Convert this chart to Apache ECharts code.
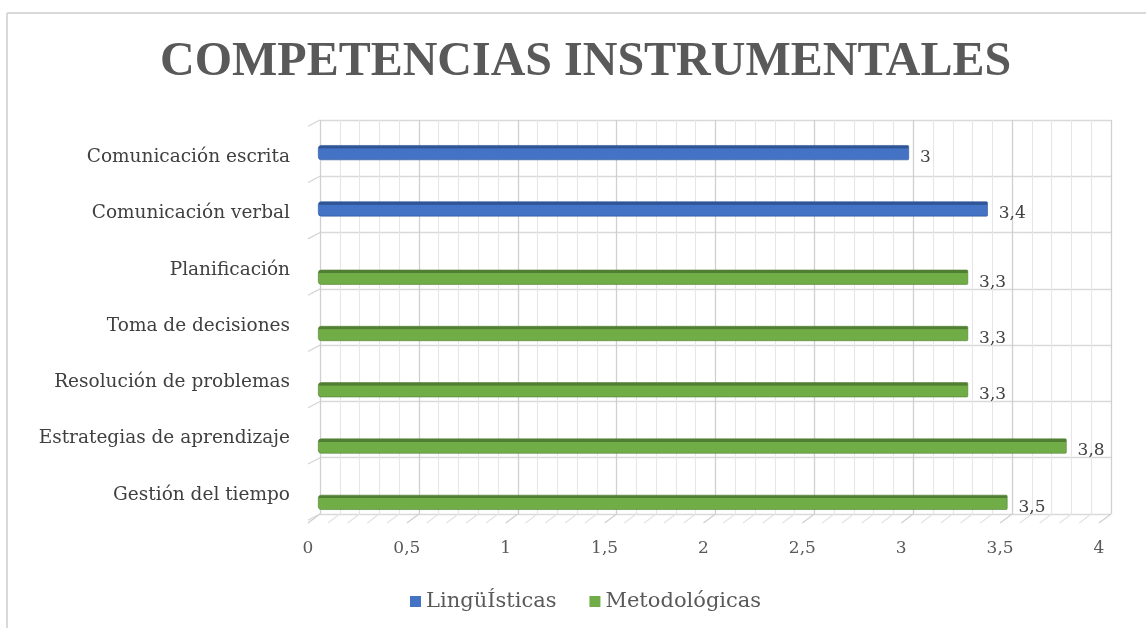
<!DOCTYPE html>
<html>
<head>
<meta charset="utf-8">
<script src="https://cdn.jsdelivr.net/npm/echarts@6/dist/echarts.min.js"></script>
<style>html,body{margin:0;padding:0;background:#fff}#c{width:1146px;height:628px}</style>
</head>
<body>
<div id="c"></div>
<script>
var categories = ['Comunicación escrita','Comunicación verbal','Planificación','Toma de decisiones','Resolución de problemas','Estrategias de aprendizaje','Gestión del tiempo'];
var linguisticas = [3, 3.4, null, null, null, null, null];
var metodologicas = [null, null, 3.3, 3.3, 3.3, 3.8, 3.5];
var seriesNames = ['LingüÍsticas', 'Metodológicas'];
var titleText = 'COMPETENCIAS INSTRUMENTALES';

var serif = 'Liberation Serif';
var wide = 'DejaVu Serif';
var blue = '#4472c4', blueDark = '#2f5597', green = '#70ad47', greenDark = '#507e32';
var chart = echarts.init(document.getElementById('c'));
function comma(v){ return String(v).replace('.', ','); }
function barColor(main, dark){
  return {type:'linear', x:0, y:0, x2:0, y2:1, colorStops:[
    {offset:0, color:dark},{offset:0.2, color:dark},{offset:0.24, color:main},{offset:1, color:main}]};
}
var DX = 12, DY = 9;
var option = {
  animation:false,
  backgroundColor:'#ffffff',
  title:{text:titleText, left:155, top:34,
    textStyle:{fontFamily:serif, fontSize:48, fontWeight:'bold', color:'#595959'}},
  legend:{top:586, left:405, itemWidth:11, itemHeight:11, itemGap:33, icon:'rect',
    textStyle:{fontFamily:wide, fontSize:21, color:'#595959'},
    data:[{name:seriesNames[0], itemStyle:{color:blue, borderWidth:0}},
          {name:seriesNames[1], itemStyle:{color:green, borderWidth:0}}]},
  graphic:[
    {type:'line', shape:{x1:7, y1:13, x2:1146, y2:13}, style:{stroke:'#d9d9d9', lineWidth:2}, silent:true},
    {type:'line', shape:{x1:7, y1:13, x2:7, y2:628}, style:{stroke:'#d9d9d9', lineWidth:2}, silent:true}
  ],
  grid:[
    {left:320, right:35, top:120, height:394},
    {left:308, right:47, top:129, height:394},
    {left:318, right:40, top:124.5, height:394},
    {left:318, right:40, top:136.5, height:394}
  ],
  xAxis:[
    {gridIndex:0, type:'value', min:0, max:4, interval:0.5,
      axisLine:{show:false}, axisTick:{show:false}, axisLabel:{show:false},
      splitLine:{show:true, lineStyle:{color:'#d0d0d0', width:1.3}},
      minorTick:{show:false, splitNumber:5},
      minorSplitLine:{show:true, lineStyle:{color:'#e6e6e6', width:1.1}}},
    {gridIndex:1, type:'value', min:0, max:4, interval:0.5,
      axisLine:{show:false}, axisTick:{show:false}, splitLine:{show:false},
      axisLabel:{show:true, margin:17, formatter:comma, fontFamily:wide, fontSize:17, color:'#595959'}},
    {gridIndex:2, type:'value', min:0, max:4, show:false},
    {gridIndex:3, type:'value', min:0, max:4, show:false}
  ],
  yAxis:[
    {gridIndex:0, type:'category', data:categories, inverse:true,
      axisLine:{show:false}, axisTick:{show:false}, axisLabel:{show:false},
      splitLine:{show:true, lineStyle:{color:'#d9d9d9', width:1.3}}},
    {gridIndex:1, type:'category', data:categories, inverse:true,
      axisLine:{show:false}, axisTick:{show:false}, splitLine:{show:false},
      axisLabel:{margin:18, fontFamily:wide, fontSize:18.5, color:'#404040'}},
    {gridIndex:2, type:'category', data:categories, inverse:true, show:false},
    {gridIndex:3, type:'category', data:categories, inverse:true, show:false}
  ],
  series:[
    {type:'custom', xAxisIndex:0, yAxisIndex:0, silent:true, z:1, data:[[0,0]],
      renderItem:function(params, api){
        var cs = params.coordSys;
        var children = [];
        var bottom = cs.y + cs.height;
        for (var i = 0; i <= 40; i++) {
          var x = api.coord([i/10, 0])[0];
          children.push({type:'line', shape:{x1:x-DX, y1:bottom+DY, x2:x, y2:bottom},
            style:{stroke: i%5===0 ? '#cfcfcf' : '#e3e3e3', lineWidth:1.2}});
        }
        var band = cs.height / categories.length;
        for (var j = 0; j <= categories.length; j++) {
          var y = cs.y + j*band;
          children.push({type:'line', shape:{x1:cs.x-DX, y1:y+DY*0.7, x2:cs.x, y2:y},
            style:{stroke:'#d4d4d4', lineWidth:1.2}});
        }
        return {type:'group', children:children};
      }},
    {name:seriesNames[0], type:'bar', xAxisIndex:2, yAxisIndex:2, data:linguisticas, barWidth:15, z:3,
      itemStyle:{color:barColor(blue, blueDark), borderRadius:[3,1,1,3], borderColor:blueDark, borderWidth:0.6},
      label:{show:true, position:'right', distance:11, offset:[0,5], formatter:function(p){return comma(p.value);},
        fontFamily:wide, fontSize:17, color:'#404040'}},
    {name:seriesNames[1], type:'bar', xAxisIndex:3, yAxisIndex:3, data:metodologicas, barWidth:15, z:3,
      itemStyle:{color:barColor(green, greenDark), borderRadius:[3,1,1,3], borderColor:greenDark, borderWidth:0.6},
      label:{show:true, position:'right', distance:11, offset:[0,5], formatter:function(p){return comma(p.value);},
        fontFamily:wide, fontSize:17, color:'#404040'}}
  ]
};
chart.setOption(option);
</script>
</body>
</html>
